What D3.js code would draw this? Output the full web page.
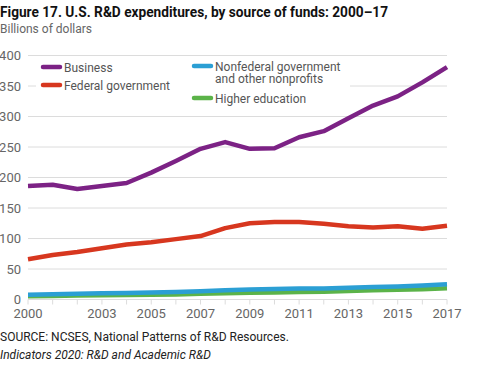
<!DOCTYPE html>
<html lang="en">
<head>
  <meta charset="UTF-8">
  <title>U.S. R&amp;D expenditures</title>
  <style>
    body { margin: 0; background: #fff; }
    text { font-family: Roboto, "Noto Sans", sans-serif; }
  </style>
</head>
<body>
  <svg id="chart" width="477" height="372"></svg>
<script src="https://cdn.jsdelivr.net/npm/d3@7"></script>
<script>
  // values (billions of dollars)
  let years = d3.range(2000, 2018)
  let business = [186, 188, 181, 186, 191, 208, 227, 247, 258, 247, 248, 266, 276, 297, 318, 333, 356, 381]
  let federal = [66, 73, 78, 84, 90, 94, 99, 104, 117, 125, 127, 127, 124, 120, 118, 120, 116, 121]
  let nonfederal = [7.7, 8.6, 9.4, 10.3, 10.8, 11.4, 12.2, 13.5, 15.2, 16.5, 17.4, 18.2, 18.0, 19.3, 20.4, 21.5, 22.8, 24.8]
  let higherEd = [5.2, 5.8, 6.4, 7.0, 7.4, 7.9, 8.4, 9.4, 10.4, 11.0, 11.6, 12.2, 12.9, 14.0, 15.0, 15.9, 16.8, 18.4]
  let yTicks = [0, 50, 100, 150, 200, 250, 300, 350, 400]
  let xTickLabels = [2000, 2003, 2005, 2007, 2009, 2011, 2013, 2015, 2017]

  let series = [
    {name: "Business", values: business, color: "#7c2285"},
    {name: "Federal government", values: federal, color: "#d7371f"},
    {name: "Nonfederal government|and other nonprofits", values: nonfederal, color: "#2b9fd4"},
    {name: "Higher education", values: higherEd, color: "#5bb349"}
  ]

  let svg = d3.select("#chart")
  let x = d3.scaleLinear().domain([2000, 2017]).range([28, 447])
  let y = d3.scaleLinear().domain([0, 400]).range([299.5, 55.5])

  svg.append("text").attr("x", 0).attr("y", 17)
     .attr("font-size", 15).attr("font-weight", 700).attr("fill", "#111")
     .attr("textLength", 388).attr("lengthAdjust", "spacingAndGlyphs")
     .text("Figure 17. U.S. R&D expenditures, by source of funds: 2000–17")
  svg.append("text").attr("x", 0).attr("y", 33)
     .attr("font-size", 12).attr("fill", "#666")
     .text("Billions of dollars")

  // grid
  svg.append("g").selectAll("line").data(yTicks).enter().append("line")
     .attr("x1", 28).attr("x2", 447)
     .attr("y1", d => y(d)).attr("y2", d => y(d))
     .attr("stroke", "#dcdcdc").attr("stroke-width", 1)
  svg.append("g").selectAll("text").data(yTicks).enter().append("text")
     .attr("x", 21).attr("y", d => y(d) + 4.5)
     .attr("text-anchor", "end").attr("font-size", 13).attr("fill", "#666")
     .text(d => d)

  // x ticks every year, labels on some
  svg.append("g").selectAll("line").data(years).enter().append("line")
     .attr("x1", d => x(d)).attr("x2", d => x(d))
     .attr("y1", y(0)).attr("y2", y(0) + 5)
     .attr("stroke", "#dcdcdc")
  svg.append("g").selectAll("text").data(xTickLabels).enter().append("text")
     .attr("x", d => x(d)).attr("y", 318)
     .attr("text-anchor", "middle").attr("font-size", 13).attr("fill", "#666")
     .text(d => d)

  // legend box hides grid lines behind it
  svg.append("rect").attr("x", 36).attr("y", 60).attr("width", 314).attr("height", 46).attr("fill", "#fff")

  let line = d3.line().x((d, i) => x(years[i])).y(d => y(d))
  svg.append("g").selectAll("path").data(series.slice().reverse()).enter().append("path")
     .attr("d", d => line(d.values))
     .attr("fill", "none").attr("stroke", d => d.color)
     .attr("stroke-width", 4.5).attr("stroke-linejoin", "round")

  let legendPos = [[43, 67], [43, 85], [194, 66], [194, 98]]
  let leg = svg.append("g").selectAll("g").data(series).enter().append("g")
     .attr("transform", (d, i) => `translate(${legendPos[i][0]},${legendPos[i][1]})`)
  leg.append("line").attr("x1", 0).attr("x2", 17).attr("y1", 0).attr("y2", 0)
     .attr("stroke", d => d.color).attr("stroke-width", 4.5).attr("stroke-linecap", "round")
  leg.append("text").attr("x", 21).attr("y", 4.5)
     .attr("font-size", 12).attr("fill", "#555")
     .selectAll("tspan").data(d => d.name.split("|")).enter().append("tspan")
     .attr("x", 21).attr("dy", (d, i) => i ? 12.5 : 0)
     .text(d => d)

  svg.append("text").attr("x", 0).attr("y", 341)
     .attr("font-size", 12).attr("fill", "#222")
     .text("SOURCE: NCSES, National Patterns of R&D Resources.")
  svg.append("text").attr("x", 0).attr("y", 359)
     .attr("font-size", 12).attr("font-style", "italic").attr("fill", "#222")
     .text("Indicators 2020: R&D and Academic R&D")
</script>
</body>
</html>
